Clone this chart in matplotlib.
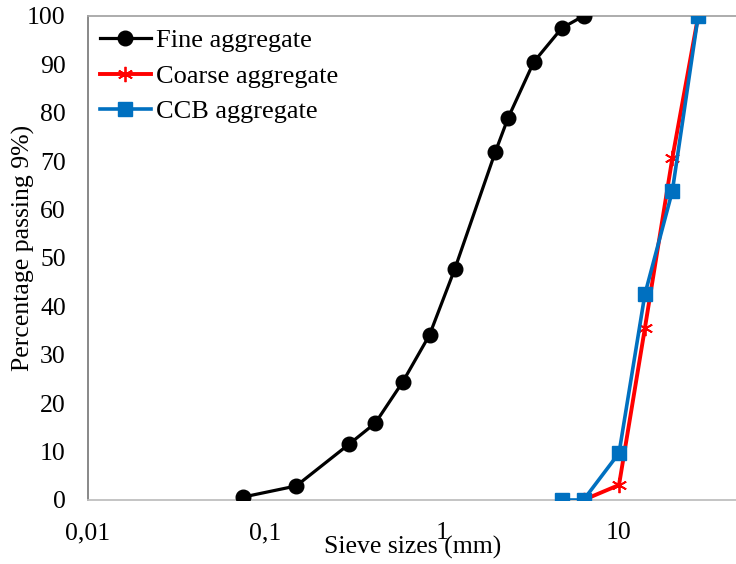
import numpy as np
import matplotlib
matplotlib.use('Agg')
import matplotlib.pyplot as plt

plt.rcParams['font.family'] = ['Liberation Serif', 'DejaVu Serif']

# Datos
fine_size = [0.075, 0.15, 0.3, 0.42, 0.6, 0.85, 1.18, 2.0, 2.36, 3.3, 4.75, 6.3]
fine_pass = [0.6, 2.9, 11.6, 15.9, 24.4, 34.1, 47.7, 71.9, 78.9, 90.5, 97.5, 100]

coarse_size = [6.3, 10, 14, 20, 28]
coarse_pass = [0, 3.1, 35.5, 70.6, 100]

ccb_size = [4.75, 6.3, 10, 14, 20, 28]
ccb_pass = [0, 0, 9.7, 42.5, 63.8, 100]

xticks = [0.01, 0.1, 1, 10]
xtick_labels = ['0,01', '0,1', '1', '10']
yticks = list(range(0, 101, 10))

fig = plt.figure(figsize=(7.36, 5.64), dpi=100)
ax = fig.add_axes([88 / 736, 64 / 564, 648 / 736, 484 / 564])

ax.plot(fine_size, fine_pass, color='black', lw=2.3, marker='o', ms=10.5,
        label='Fine aggregate', zorder=3)
ax.plot(coarse_size, coarse_pass, color='#FF0000', lw=2.8, marker=(6, 2, 0), ms=11,
        mew=1.3, label='Coarse aggregate', zorder=3)
ax.plot(ccb_size, ccb_pass, color='#0070C0', lw=2.6, marker='s', ms=10,
        label='CCB aggregate', zorder=4)

ax.set_xscale('log')
ax.set_xlim(0.01, 45.8)
ax.set_ylim(0, 100)
ax.set_xticks(xticks)
ax.set_xticklabels(xtick_labels)
ax.xaxis.set_minor_locator(matplotlib.ticker.NullLocator())
ax.set_yticks(yticks)
ax.tick_params(axis='both', length=0, labelsize=18.5)
ax.tick_params(axis='y', pad=16)
ax.tick_params(axis='x', pad=16)

ax.spines['right'].set_visible(False)
ax.spines['left'].set_color('#7F7F7F')
ax.spines['top'].set_color('#A6A6A6')
ax.spines['bottom'].set_color('#BFBFBF')
for s in ['left', 'top', 'bottom']:
    ax.spines[s].set_linewidth(1.3)

ax.set_xlabel('Sieve sizes (mm)', fontsize=18.5)
ax.xaxis.set_label_coords((413 - 88) / 648, (500 - 536) / 484)
ax.set_ylabel('Percentage passing 9%)', fontsize=18.5)
ax.yaxis.set_label_coords((35 - 88) / 648, (500 - 248) / 484)

ax.legend(loc='upper left', frameon=False, fontsize=19, handlelength=1.93,
          handletextpad=0.19, labelspacing=0.45, borderaxespad=0, borderpad=0,
          bbox_to_anchor=(12 / 648, 1 - 13 / 484))

plt.savefig('out.png', dpi=100)
plt.close()
